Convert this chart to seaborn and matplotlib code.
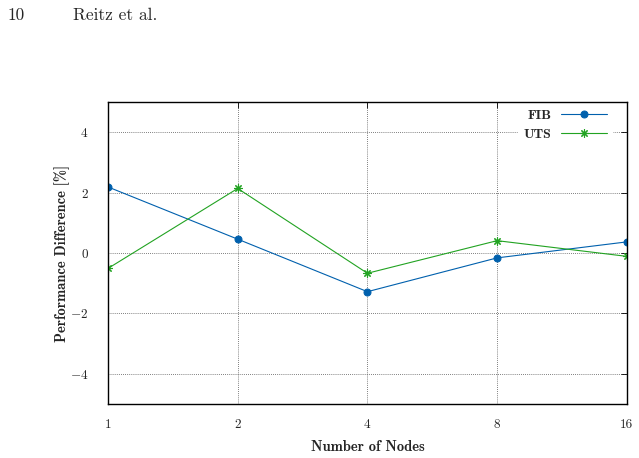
import numpy as np
import pandas as pd
import matplotlib
matplotlib.use('Agg')
import matplotlib.pyplot as plt
import seaborn as sns

nodes = [1, 2, 4, 8, 16]
fib = [2.19, 0.46, -1.28, -0.16, 0.37]
uts = [-0.51, 2.14, -0.67, 0.41, -0.11]

sns.set_theme(style='white')
plt.rcParams['font.family'] = ['cmr10', 'DejaVu Serif']
plt.rcParams['mathtext.fontset'] = 'cm'
plt.rcParams['axes.formatter.use_mathtext'] = True

fig = plt.figure(figsize=(6.39, 4.58), dpi=100)
ax = fig.add_axes([0.169, 0.118, 0.812, 0.659])

# filled and line-art markers can't share one lineplot call
sns.lineplot(x=nodes, y=fib, color='#0060ad', marker='o', markersize=5,
             markeredgecolor='#0060ad', linewidth=0.8, label='FIB', ax=ax)
sns.lineplot(x=nodes, y=uts, color='#22a322', marker=(8, 2, 0), markersize=6,
             markeredgewidth=0.8, markeredgecolor='#22a322', linewidth=0.8,
             label='UTS', ax=ax)

ax.set_xscale('log', base=2)
ax.set_xlim(1, 16)
ax.set_ylim(-5, 5)
ax.set_xticks(nodes)
ax.set_xticklabels([str(n) for n in nodes])
ax.set_yticks([-4, -2, 0, 2, 4])
ax.set_yticklabels(['$-4$', '$-2$', '$0$', '$2$', '$4$'])
ax.minorticks_off()
ax.grid(True, color='#555555', linestyle=(0, (1, 1.5)), linewidth=0.6)
ax.tick_params(direction='in', top=True, right=True, length=4, width=0.6,
               labelsize=9.5, color='black')
ax.tick_params(axis='x', pad=11)
ax.tick_params(axis='y', pad=14)
for s in ax.spines.values():
    s.set_color('black')
    s.set_linewidth(1.0)

ax.set_xlabel('Number of Nodes', fontsize=10.5,
              family=['cmb10', 'DejaVu Serif'], labelpad=6)
ax.set_ylabel('Performance Difference [%]', fontsize=10.5,
              family=['cmb10', 'DejaVu Serif'], labelpad=0)

leg = ax.legend(loc='upper right', bbox_to_anchor=(0.972, 0.994), markerfirst=False,
                frameon=True, handlelength=3.3, handletextpad=0.7,
                borderaxespad=0, labelspacing=0.45,
                prop={'family': ['cmb10', 'DejaVu Serif'], 'size': 10})
leg.get_frame().set_edgecolor('white')
leg.get_frame().set_facecolor('white')
leg.get_frame().set_alpha(1)
leg.get_frame().set_boxstyle('square', pad=0)
leg.set_zorder(2.3)  # keep spines on top of the white box

fig.text(8 / 639, 1 - 15 / 458, '10', fontsize=12.5, va='center', ha='left')
fig.text(73 / 639, 1 - 15 / 458, 'Reitz et al.', fontsize=12.5, va='center', ha='left')

fig.savefig('out.png', dpi=100)
